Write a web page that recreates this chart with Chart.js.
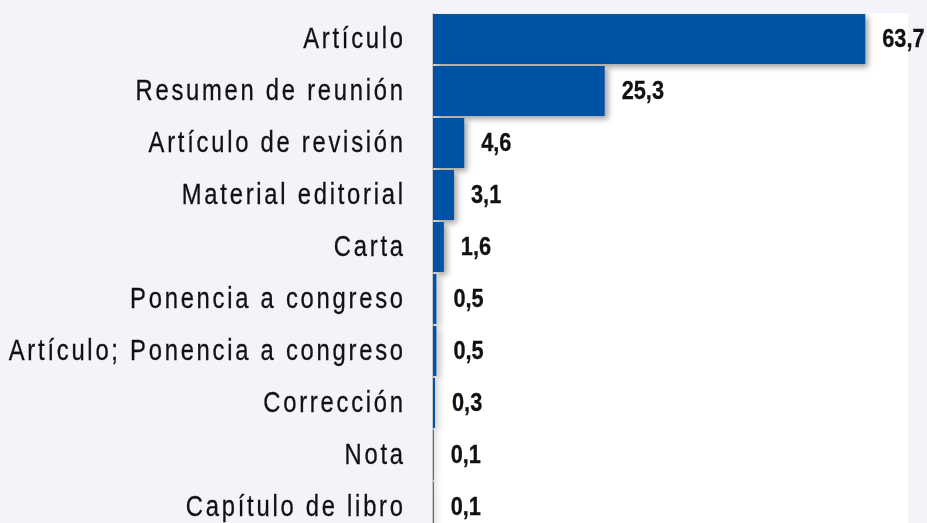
<!DOCTYPE html>
<html>
<head>
<meta charset="utf-8">
<script src="https://cdn.jsdelivr.net/npm/chart.js@4"></script>
<style>
  html, body { margin: 0; padding: 0; background: #f3f4f9; overflow: hidden; }
  #wrap { position: absolute; left: 0; top: 0; width: 927px; height: 533px; }
</style>
</head>
<body>
<div id="wrap"><canvas id="typeChart"></canvas></div>
<script>
/* ================= DATA ================= */

const typeLabels = [
    "Artículo",
    "Resumen de reunión",
    "Artículo de revisión",
    "Material editorial",
    "Carta",
    "Ponencia a congreso",
    "Artículo; Ponencia a congreso",
    "Corrección",
    "Nota",
    "Capítulo de libro"
];

const typeValues = [63.7, 25.3, 4.6, 3.1, 1.6, 0.5, 0.5, 0.3, 0.1, 0.1];

/* ================= TEXT HELPERS ================= */

const fontFamily = "\"Liberation Sans\", Arial, sans-serif";
const squeeze = 0.82;     // narrow look, as in the original

// draws condensed, letter-spaced text; align "left" or "right" at x
function spacedText(ctx, text, x, y, font, align, spacing, weight) {
    ctx.save();
    ctx.font = font;
    ctx.textBaseline = "middle";
    ctx.textAlign = "left";
    ctx.letterSpacing = (spacing / squeeze) + "px";
    const w = (ctx.measureText(text).width - spacing / squeeze) * squeeze;
    ctx.translate(align === "right" ? x - w : x, y);
    ctx.scale(squeeze, 1);
    ctx.fillText(text, 0, 0);
    if (weight) {
        ctx.strokeStyle = ctx.fillStyle;
        ctx.lineWidth = weight;
        ctx.strokeText(text, 0, 0);
    }
    ctx.restore();
}

/* ================= PLUGINS ================= */

const plotBackground = {
    id: "plotBackground",
    beforeDraw(chart) {
        const { ctx, chartArea } = chart;
        ctx.save();
        ctx.fillStyle = "#ffffff";
        ctx.fillRect(chartArea.left, chartArea.top, chartArea.right - chartArea.left, chart.height - chartArea.top);
        const g = ctx.createLinearGradient(chartArea.left - 1, 0, chartArea.left + 6, 0);
        g.addColorStop(0, "rgba(0,0,0,0.22)");
        g.addColorStop(0.25, "rgba(0,0,0,0.08)");
        g.addColorStop(1, "rgba(0,0,0,0)");
        ctx.fillStyle = g;
        ctx.fillRect(chartArea.left - 1, chartArea.top, 7, chart.height - chartArea.top);
        ctx.restore();
    },
    beforeDatasetsDraw(chart) {
        const ctx = chart.ctx;
        ctx.save();
        ctx.shadowColor = "rgba(0,0,0,0.38)";
        ctx.shadowBlur = 6;
        ctx.shadowOffsetX = 3;
        ctx.shadowOffsetY = 3;
    },
    afterDatasetsDraw(chart) {
        const ctx = chart.ctx;
        ctx.restore();

        const meta = chart.getDatasetMeta(0);
        const xScale = chart.scales.x;
        const left = chart.chartArea.left;

        ctx.fillStyle = "#111111";
        meta.data.forEach((bar, i) => {
            const v = typeValues[i];

            // category label
            spacedText(ctx, typeLabels[i], left - 30, bar.y + 1, "29px " + fontFamily, "right", 2.75, 0.3);

            // value label
            const x = xScale.getPixelForValue(v) + 17;
            spacedText(ctx, v.toFixed(1).replace(".", ","), x, bar.y + 1, "bold 26.5px " + fontFamily, "left", 0, 0.3);
        });
    }
};

/* ================= DOCUMENT TYPES ================= */

new Chart(document.getElementById("typeChart"), {

    type: "bar",

    data: {
        labels: typeLabels,
        datasets: [{
                data: typeValues,
                backgroundColor: "#0052a5",
                borderWidth: 0,
                categoryPercentage: 1,
                barPercentage: 0.96
            }]
    },

    plugins: [plotBackground],

    options: {
        indexAxis: "y",
        responsive: true,
        maintainAspectRatio: false,
        animation: false,
        devicePixelRatio: 1,

        layout: {
            padding: { top: 13, right: 19, bottom: 0, left: 0 }
        },

        plugins: {
            legend: { display: false },
            tooltip: { enabled: false }
        },

        scales: {
            x: {
                display: false,
                min: 0,
                max: 70
            },
            y: {
                grid: { display: false, drawTicks: false },
                border: { display: true, color: "#c4c4c8", width: 1 },
                afterFit: (scale) => {
                    scale.width = 433;
                    scale.paddingTop = 0;
                    scale.paddingBottom = 0;
                },
                ticks: { display: false }
            }
        }
    }

});
</script>
</body>
</html>
